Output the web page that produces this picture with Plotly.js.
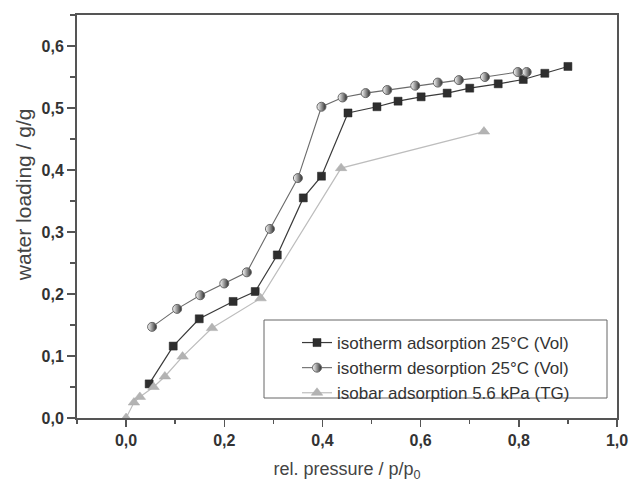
<!DOCTYPE html>
<html>
<head>
<meta charset="utf-8">
<script src="https://cdn.plot.ly/plotly-3.0.1.min.js"></script>
<style>html,body{margin:0;padding:0;background:#fff;}</style>
</head>
<body>
<div id="chart" style="width:630px;height:482px;"></div>
<script>
const adsX = [0.047, 0.096, 0.149, 0.218, 0.263, 0.308, 0.361, 0.398, 0.452, 0.511, 0.554, 0.601, 0.654, 0.700, 0.758, 0.809, 0.853, 0.900];
const adsY = [0.055, 0.116, 0.160, 0.188, 0.204, 0.263, 0.355, 0.390, 0.492, 0.502, 0.511, 0.518, 0.524, 0.532, 0.539, 0.546, 0.556, 0.567];
const desX = [0.053, 0.104, 0.151, 0.200, 0.246, 0.293, 0.350, 0.398, 0.441, 0.488, 0.532, 0.589, 0.635, 0.678, 0.731, 0.798, 0.816];
const desY = [0.147, 0.176, 0.198, 0.217, 0.235, 0.305, 0.387, 0.502, 0.517, 0.524, 0.529, 0.536, 0.541, 0.545, 0.550, 0.558, 0.558];
const isoX = [0.000, 0.016, 0.028, 0.056, 0.079, 0.115, 0.175, 0.274, 0.438, 0.729];
const isoY = [0.000, 0.025, 0.034, 0.050, 0.067, 0.099, 0.145, 0.193, 0.403, 0.462];
const names = ["isotherm adsorption 25°C (Vol)", "isotherm desorption 25°C (Vol)", "isobar adsorption 5.6 kPa (TG)"];
const xTitle = 'rel. pressure / p/p<sub>0</sub>';
const yTitle = 'water loading / g/g';

const FONT = 'Liberation Sans, Arial, sans-serif';

const traces = [
  {x: adsX, y: adsY, name: names[0], mode: 'lines+markers', type: 'scatter',
   line: {color: '#3a3a3a', width: 1.2},
   marker: {symbol: 'square', size: 8, color: '#2e2e2e', line: {color: '#222', width: 0.5}}},
  {x: desX, y: desY, name: names[1], mode: 'lines+markers', type: 'scatter',
   line: {color: '#6a6a6a', width: 1.1},
   marker: {symbol: 'circle', size: 9, color: '#fff', gradient: {type: 'horizontal', color: '#2a2a2a'}, line: {color: '#666', width: 1}}},
  {x: isoX, y: isoY, name: names[2], mode: 'lines+markers', type: 'scatter',
   line: {color: '#bdbdbd', width: 1.2},
   marker: {symbol: 'triangle-up', size: 10, color: '#b3b3b3', line: {color: '#aaa', width: 0.5}}}
];

const axisCommon = {
  showgrid: false, zeroline: false, showline: true, linecolor: '#555', linewidth: 2,
  mirror: true, ticks: 'outside', tickcolor: '#555', tickwidth: 1.5,
  tickfont: {family: FONT, size: 16, color: '#333', weight: 'bold'},
  tickformat: '.1f'
};

const layout = {
  width: 630, height: 482,
  margin: {l: 77, r: 13, t: 15, b: 64},
  paper_bgcolor: '#fff', plot_bgcolor: '#fff',
  separators: ', ',
  font: {family: FONT, color: '#333'},
  xaxis: Object.assign({}, axisCommon, {
    range: [-0.1, 1.0], dtick: 0.2, tick0: 0, ticklen: 7,
    minor: {dtick: 0.1, ticks: 'outside', ticklen: 4, tickcolor: '#555', tickwidth: 1.5},
    title: {text: xTitle, font: {family: FONT, size: 18, color: '#444'}, standoff: 14}
  }),
  yaxis: Object.assign({}, axisCommon, {
    range: [0, 0.65], dtick: 0.1, tick0: 0, ticklen: 8,
    minor: {dtick: 0.05, ticks: 'outside', ticklen: 5, tickcolor: '#555', tickwidth: 1.5},
    title: {text: ''}
  }),
  annotations: [{
    text: yTitle, textangle: -90, showarrow: false,
    xref: 'paper', yref: 'paper', x: -0.1, y: 0.553, xanchor: 'center', yanchor: 'middle',
    font: {family: FONT, size: 21, color: '#444'}
  }],
  shapes: [{
    type: 'rect', xref: 'paper', yref: 'paper',
    x0: (264 - 77) / 540, x1: (607 - 77) / 540, y0: (418 - 398) / 403, y1: (418 - 320) / 403,
    line: {color: '#666', width: 1}, fillcolor: 'rgba(0,0,0,0)', layer: 'below'
  }],
  legend: {
    x: (297 - 77) / 540, y: (418 - 325) / 403, xanchor: 'left', yanchor: 'top',
    bgcolor: 'rgba(0,0,0,0)', borderwidth: 0,
    font: {family: FONT, size: 17, color: '#333'}, tracegroupgap: 0, itemwidth: 30
  },
  showlegend: true
};

Plotly.newPlot('chart', traces, layout, {displayModeBar: false, staticPlot: true});
</script>
</body>
</html>
